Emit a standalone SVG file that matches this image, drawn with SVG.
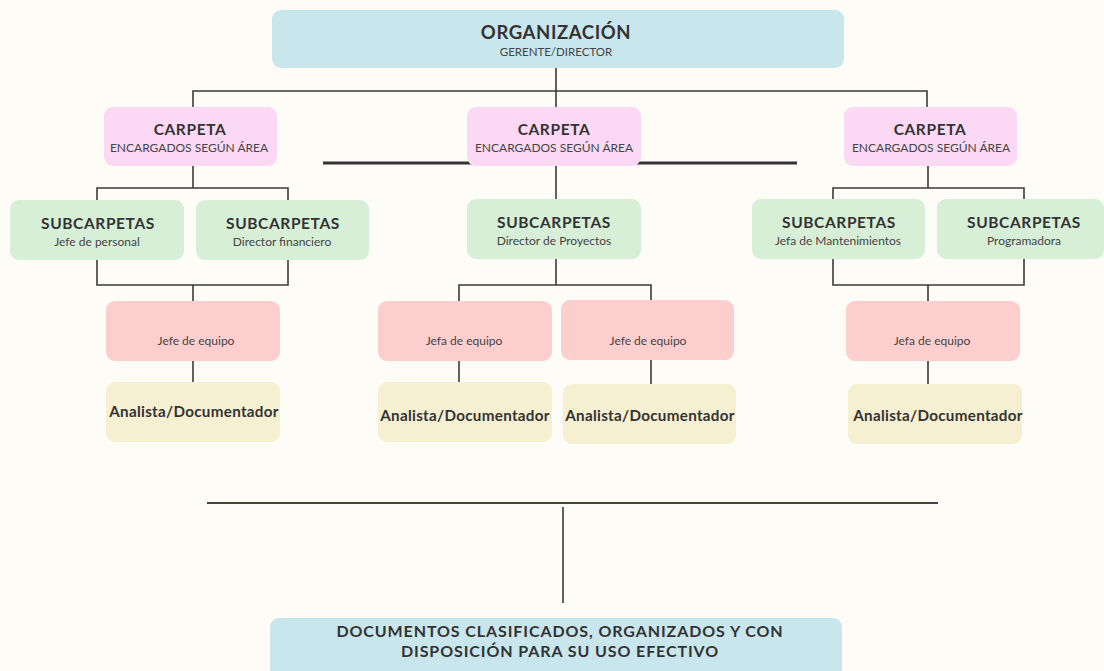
<svg xmlns="http://www.w3.org/2000/svg" width="1104" height="671" viewBox="0 0 1104 671">
<style>
text{font-family:Lato,"Open Sans","Liberation Sans",sans-serif;text-anchor:middle;fill:#333}
.t{font-weight:700;font-size:15.5px;letter-spacing:0.6px}
.s{font-size:12px;fill:#444}
.a{font-weight:700;font-size:15.2px;letter-spacing:0.3px}
.blue{fill:#c9e6ed}.pink{fill:#fbd9f4}.green{fill:#d7efd7}.red{fill:#fdcece}.yel{fill:#f5f0d1}
.ln{stroke:#3a3a3a;stroke-width:1.6;fill:none}
</style>
<rect width="1104" height="671" fill="#fdfcf7"/>
<g id="connectors">
<path class="ln" d="M556 68V91M193 107V91H927V107M556 91V107"/>
<path d="M323 163H797" stroke="#333" stroke-width="3"/>
<path class="ln" d="M193 166V188M97 200V188H288V200"/>
<path class="ln" d="M556 166V200"/>
<path class="ln" d="M928 166V188M833 200V188H1024V200"/>
<path class="ln" d="M97 260V285H288V260M193 285V301M193 361V382"/>
<path class="ln" d="M556 259V285M459 301V285H651V301M459 361V382M651 360V384"/>
<path class="ln" d="M833 259V285H1024V259M928 285V301M928 361V384"/>
<path d="M207 503H938" stroke="#444" stroke-width="2"/>
<path class="ln" d="M563 507V603"/>
</g>
<g id="org"><rect class="blue" x="272" y="10" width="572" height="58" rx="9"/><text class="t" x="556" y="39" style="font-size:18.5px">ORGANIZACIÓN</text><text class="s" x="556" y="56" style="font-size:11.5px">GERENTE/DIRECTOR</text></g>
<g id="carpeta1"><rect class="pink" x="104" y="107" width="173" height="59" rx="9"/><text class="t" x="190" y="135">CARPETA</text><text class="s" x="189" y="152">ENCARGADOS SEGÚN ÁREA</text></g>
<g id="carpeta2"><rect class="pink" x="467" y="107" width="174" height="59" rx="9"/><text class="t" x="554" y="135">CARPETA</text><text class="s" x="554" y="152">ENCARGADOS SEGÚN ÁREA</text></g>
<g id="carpeta3"><rect class="pink" x="844" y="107" width="173" height="59" rx="9"/><text class="t" x="930" y="135">CARPETA</text><text class="s" x="931" y="152">ENCARGADOS SEGÚN ÁREA</text></g>
<g id="sub1"><rect class="green" x="10" y="200" width="174" height="60" rx="9"/><text class="t" x="98" y="229">SUBCARPETAS</text><text class="s" x="97" y="246">Jefe de personal</text></g>
<g id="sub2"><rect class="green" x="196" y="200" width="173" height="60" rx="9"/><text class="t" x="283" y="229">SUBCARPETAS</text><text class="s" x="282" y="246">Director financiero</text></g>
<g id="sub3"><rect class="green" x="467" y="199" width="174" height="60" rx="9"/><text class="t" x="554" y="228">SUBCARPETAS</text><text class="s" x="554" y="245">Director de Proyectos</text></g>
<g id="sub4"><rect class="green" x="752" y="199" width="173" height="60" rx="9"/><text class="t" x="839" y="228">SUBCARPETAS</text><text class="s" x="838" y="245">Jefa de Mantenimientos</text></g>
<g id="sub5"><rect class="green" x="937" y="199" width="167" height="60" rx="9"/><text class="t" x="1024" y="228">SUBCARPETAS</text><text class="s" x="1024" y="245">Programadora</text></g>
<g id="jefe1"><rect class="red" x="106" y="301" width="174" height="60" rx="9"/><text class="s" x="196" y="345">Jefe de equipo</text></g>
<g id="jefa2"><rect class="red" x="378" y="301" width="174" height="60" rx="9"/><text class="s" x="464" y="345">Jefa de equipo</text></g>
<g id="jefe3"><rect class="red" x="561" y="300" width="173" height="60" rx="9"/><text class="s" x="648" y="345">Jefe de equipo</text></g>
<g id="jefa4"><rect class="red" x="846" y="301" width="174" height="60" rx="9"/><text class="s" x="932" y="345">Jefa de equipo</text></g>
<g id="anal1"><rect class="yel" x="106" y="382" width="174" height="60" rx="9"/><text class="a" x="194" y="417">Analista/Documentador</text></g>
<g id="anal2"><rect class="yel" x="378" y="382" width="174" height="60" rx="9"/><text class="a" x="465" y="421">Analista/Documentador</text></g>
<g id="anal3"><rect class="yel" x="563" y="384" width="173" height="60" rx="9"/><text class="a" x="650" y="421">Analista/Documentador</text></g>
<g id="anal4"><rect class="yel" x="848" y="384" width="174" height="60" rx="9"/><text class="a" x="938" y="421">Analista/Documentador</text></g>
<g id="docs"><rect class="blue" x="270" y="618" width="572" height="70" rx="9"/><text class="t" x="560" y="637" style="font-size:16px;letter-spacing:0.9px">DOCUMENTOS CLASIFICADOS, ORGANIZADOS Y CON</text><text class="t" x="560" y="657" style="font-size:16px;letter-spacing:0.9px">DISPOSICIÓN PARA SU USO EFECTIVO</text></g>
</svg>
